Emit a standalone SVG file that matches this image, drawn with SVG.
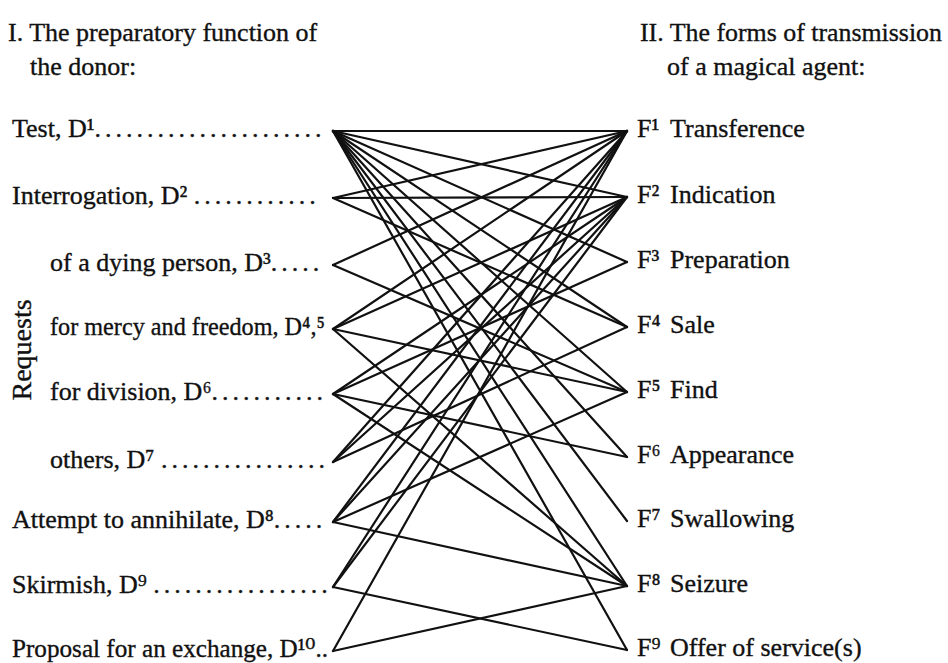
<svg xmlns="http://www.w3.org/2000/svg" width="948" height="663" viewBox="0 0 948 663">
<style>
text{font-family:"Liberation Serif","DejaVu Serif",serif;font-size:26px;fill:#111;stroke:#111;stroke-width:0.35}
.dots{letter-spacing:4px}
.conn line{stroke:#111;stroke-width:2.2;stroke-linecap:round}
</style>
<rect width="948" height="663" fill="#fff"/>
<g id="heading-left">
<text x="8" y="41">I. The preparatory function of</text>
<text x="30" y="75">the donor:</text>
</g>
<g id="heading-right">
<text x="640" y="41" textLength="302" lengthAdjust="spacingAndGlyphs">II. The forms of transmission</text>
<text x="667" y="75">of a magical agent:</text>
</g>
<text transform="translate(31,350) rotate(-90)" text-anchor="middle" style="font-size:28px">Requests</text>
<g id="D1"><text x="12" y="137">Test, D¹<tspan class="dots">......................</tspan></text></g>
<g id="D2"><text x="12" y="204">Interrogation, D² <tspan class="dots">............</tspan></text></g>
<g id="D3"><text x="50" y="271">of a dying person, D³<tspan class="dots">.....</tspan></text></g>
<g id="D45"><text x="50" y="335" textLength="275" lengthAdjust="spacingAndGlyphs">for mercy and freedom, D⁴,⁵</text></g>
<g id="D6"><text x="50" y="400">for division, D⁶<tspan class="dots">...........</tspan></text></g>
<g id="D7"><text x="50" y="468">others, D⁷ <tspan class="dots">................</tspan></text></g>
<g id="D8"><text x="12" y="528">Attempt to annihilate, D⁸<tspan class="dots">.....</tspan></text></g>
<g id="D9"><text x="12" y="593">Skirmish, D⁹ <tspan class="dots">.................</tspan></text></g>
<g id="D10"><text x="12" y="657" textLength="316" lengthAdjust="spacingAndGlyphs">Proposal for an exchange, D¹⁰..</text></g>
<g id="F1"><text x="637" y="137">F¹</text><text x="670" y="137">Transference</text></g>
<g id="F2"><text x="637" y="203">F²</text><text x="670" y="203">Indication</text></g>
<g id="F3"><text x="637" y="268">F³</text><text x="670" y="268">Preparation</text></g>
<g id="F4"><text x="637" y="333">F⁴</text><text x="670" y="333">Sale</text></g>
<g id="F5"><text x="637" y="398">F⁵</text><text x="670" y="398">Find</text></g>
<g id="F6"><text x="637" y="463">F⁶</text><text x="670" y="463">Appearance</text></g>
<g id="F7"><text x="637" y="527">F⁷</text><text x="670" y="527">Swallowing</text></g>
<g id="F8"><text x="637" y="592">F⁸</text><text x="670" y="592">Seizure</text></g>
<g id="F9"><text x="637" y="656">F⁹</text><text x="670" y="656">Offer of service(s)</text></g>
<g id="connectors" class="conn">
<line x1="333" y1="131" x2="627" y2="131"/>
<line x1="333" y1="131" x2="627" y2="197"/>
<line x1="333" y1="131" x2="627" y2="262"/>
<line x1="333" y1="131" x2="627" y2="327"/>
<line x1="333" y1="131" x2="627" y2="392"/>
<line x1="333" y1="131" x2="627" y2="457"/>
<line x1="333" y1="131" x2="627" y2="521"/>
<line x1="333" y1="131" x2="627" y2="586"/>
<line x1="333" y1="131" x2="627" y2="650"/>
<line x1="333" y1="198" x2="627" y2="131"/>
<line x1="333" y1="198" x2="627" y2="197"/>
<line x1="333" y1="198" x2="627" y2="327"/>
<line x1="333" y1="265" x2="627" y2="131"/>
<line x1="333" y1="265" x2="627" y2="392"/>
<line x1="333" y1="329" x2="627" y2="131"/>
<line x1="333" y1="329" x2="627" y2="197"/>
<line x1="333" y1="329" x2="627" y2="392"/>
<line x1="333" y1="329" x2="627" y2="586"/>
<line x1="333" y1="394" x2="627" y2="197"/>
<line x1="333" y1="394" x2="627" y2="262"/>
<line x1="333" y1="394" x2="627" y2="457"/>
<line x1="333" y1="394" x2="627" y2="586"/>
<line x1="333" y1="462" x2="627" y2="131"/>
<line x1="333" y1="462" x2="627" y2="197"/>
<line x1="333" y1="462" x2="627" y2="327"/>
<line x1="333" y1="522" x2="627" y2="131"/>
<line x1="333" y1="522" x2="627" y2="197"/>
<line x1="333" y1="522" x2="627" y2="392"/>
<line x1="333" y1="522" x2="627" y2="586"/>
<line x1="333" y1="587" x2="627" y2="131"/>
<line x1="333" y1="587" x2="627" y2="197"/>
<line x1="333" y1="587" x2="627" y2="650"/>
<line x1="333" y1="651" x2="627" y2="131"/>
<line x1="333" y1="651" x2="627" y2="586"/>
</g>
</svg>
